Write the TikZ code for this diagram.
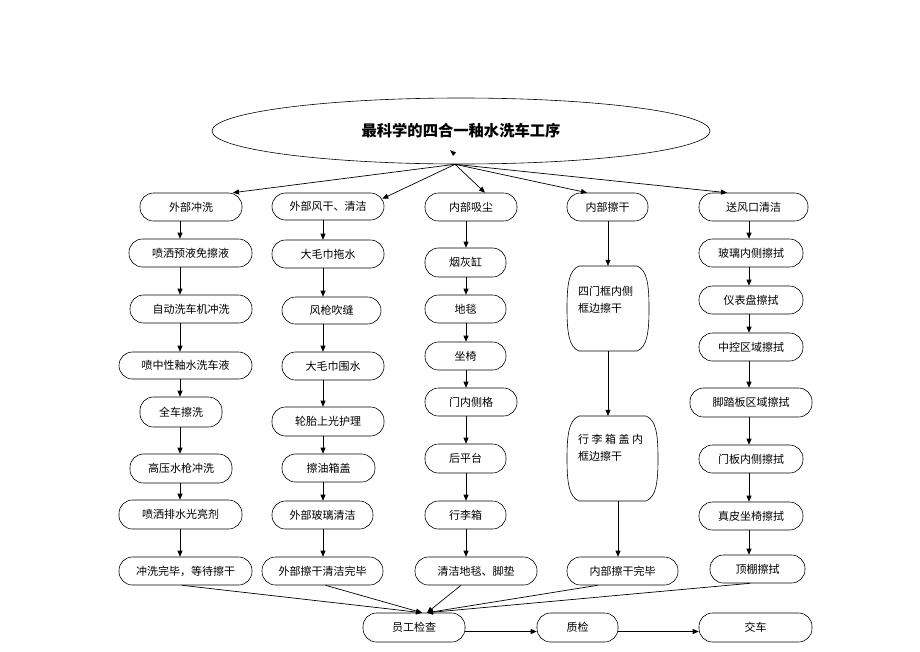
\documentclass[tikz,border=0pt]{standalone}
\usepackage{fontspec}
\newfontfamily\cjk{Noto Sans CJK SC}
\usetikzlibrary{arrows.meta,shapes.geometric}
\tikzset{
  box/.style={draw, line width=0.6pt, rounded corners=13.5pt, inner sep=0pt,
    font=\cjk\fontsize{11}{13}\selectfont},
  arr/.style={-{Triangle[length=6pt,width=5pt]}, line width=0.7pt},
  barreltext/.style={anchor=north west, align=left, inner sep=0pt,
    font=\cjk\fontsize{11}{17}\selectfont},
}
\newcommand{\mybox}[6]{%
  \node[box, minimum width={(#3-#2)*1pt}, minimum height={(#5-#4)*1pt}]
    (#1) at ({(#2+#3)/2},{(#4+#5)/2}) {#6};}
\newcommand{\mybarrel}[5]{%
  \node[inner sep=0pt, minimum width={(#3-#2)*1pt}, minimum height={(#5-#4)*1pt}]
    (#1) at ({(#2+#3)/2},{(#4+#5)/2}) {};
  \draw[line width=0.6pt] ({#2+12},#4) -- ({#3-12},#4)
    .. controls ({#3-2},{#4+4}) and (#3,{#4+18}) .. (#3,{(#4+#5)/2})
    .. controls (#3,{#5-18}) and ({#3-2},{#5-4}) .. ({#3-12},#5)
    -- ({#2+12},#5)
    .. controls ({#2+2},{#5-4}) and (#2,{#5-18}) .. (#2,{(#4+#5)/2})
    .. controls (#2,{#4+18}) and ({#2+2},{#4+4}) .. cycle;}
\begin{document}
\begin{tikzpicture}[x=1pt,y=-1pt]
\useasboundingbox[fill=white] (0,0) rectangle (920,651);

% title
\node[draw, ellipse, line width=0.6pt, minimum width=498pt, minimum height=66pt,
  inner sep=0pt, font=\cjk\bfseries\fontsize{15.3}{17}\selectfont]
  (title) at (461,131) {最科学的四合一釉水洗车工序};
\fill (450,150) -- (456,152.5) -- (453,156) -- cycle;

% column 1
\mybox{a1}{140}{242}{193}{221}{外部冲洗}
\mybox{a2}{129}{252}{239}{267}{喷洒预液免擦液}
\mybox{a3}{130}{252}{295}{323}{自动洗车机冲洗}
\mybox{a4}{119}{252}{352}{379}{喷中性釉水洗车液}
\mybox{a5}{140}{222}{397}{427}{全车擦洗}
\mybox{a6}{130}{232}{454}{483}{高压水枪冲洗}
\mybox{a7}{119}{242}{500}{529}{喷洒排水光亮剂}
\mybox{a8}{119}{252}{557}{585}{冲洗完毕，等待擦干}

% column 2
\mybox{b1}{272}{384}{193}{220}{外部风干、清洁}
\mybox{b2}{272}{384}{240}{268}{大毛巾拖水}
\mybox{b3}{282}{381}{297}{324}{风枪吹缝}
\mybox{b4}{282}{384}{352}{380}{大毛巾围水}
\mybox{b5}{272}{384}{407}{436}{轮胎上光护理}
\mybox{b6}{282}{375}{454}{482}{擦油箱盖}
\mybox{b7}{272}{373}{501}{529}{外部玻璃清洁}
\mybox{b8}{262}{383}{557}{585}{外部擦干清洁完毕}

% column 3
\mybox{c1}{425}{517}{193}{221}{内部吸尘}
\mybox{c2}{425}{506}{248}{277}{烟灰缸}
\mybox{c3}{425}{506}{295}{323}{地毯}
\mybox{c4}{425}{506}{342}{370}{坐椅}
\mybox{c5}{425}{517}{388}{416}{门内侧格}
\mybox{c6}{425}{506}{444}{473}{后平台}
\mybox{c7}{425}{506}{501}{529}{行李箱}
\mybox{c8}{415}{537}{557}{585}{清洁地毯、脚垫}

% column 4
\mybox{d1}{567}{648}{193}{221}{内部擦干}
\mybarrel{d2}{567}{649}{266}{351}
\node[barreltext] at (578,286) {四门框内侧\\框边擦干};
\mybarrel{d3}{567}{658}{416}{501}
\node[barreltext] at (578,434) {行 李 箱 盖 内\\框边擦干};
\mybox{d4}{567}{678}{557}{585}{内部擦干完毕}

% column 5
\mybox{e1}{699}{808}{193}{221}{送风口清洁}
\mybox{e2}{699}{803}{239}{267}{玻璃内侧擦拭}
\mybox{e3}{699}{803}{286}{314}{仪表盘擦拭}
\mybox{e4}{699}{803}{333}{361}{中控区域擦拭}
\mybox{e5}{690}{812}{388}{417}{脚踏板区域擦拭}
\mybox{e6}{699}{803}{445}{473}{门板内侧擦拭}
\mybox{e7}{699}{803}{502}{530}{真皮坐椅擦拭}
\mybox{e8}{710}{805}{555}{583}{顶棚擦拭}

% bottom row
\mybox{f1}{363}{465}{613}{642}{员工检查}
\mybox{f2}{537}{618}{613}{642}{质检}
\mybox{f3}{699}{812}{613}{642}{交车}

% column x positions
\coordinate (x1) at (180,0);
\coordinate (x2) at (323,0);
\coordinate (x3) at (466,0);
\coordinate (x4) at (608,0);
\coordinate (x4b) at (618,0);
\coordinate (x5) at (749,0);

% top fan-out
\coordinate (src) at ([xshift=-6pt]title.south);
\draw[arr] (src) -- ([xshift=42pt]a1.north);
\draw[arr] (src) -- ([xshift=-2pt,yshift=-6pt]b1.north east);
\draw[arr] (src) -- ([xshift=14pt]c1.north);
\draw[arr] (src) -- ([xshift=-20.5pt]d1.north);
\draw[arr] (src) -- ([xshift=-26.5pt]e1.north);

% vertical chains
\foreach \p/\q in {a1/a2,a2/a3,a3/a4,a4/a5,a5/a6,a6/a7,a7/a8}
  \draw[arr] (\p.south -| x1) -- (\q.north -| x1);
\foreach \p/\q in {b1/b2,b2/b3,b3/b4,b4/b5,b5/b6,b6/b7,b7/b8}
  \draw[arr] (\p.south -| x2) -- (\q.north -| x2);
\foreach \p/\q in {c1/c2,c2/c3,c3/c4,c4/c5,c5/c6,c6/c7,c7/c8}
  \draw[arr] (\p.south -| x3) -- (\q.north -| x3);
\draw[arr] (d1.south -| x4) -- (d2.north -| x4);
\draw[arr] (d2.south -| x4) -- (d3.north -| x4);
\draw[arr] (d3.south -| x4b) -- (d4.north -| x4b);
\foreach \p/\q in {e1/e2,e2/e3,e3/e4,e4/e5,e5/e6,e6/e7,e7/e8}
  \draw[arr] (\p.south -| x5) -- (\q.north -| x5);

% convergence
\draw[arr] ([xshift=-3.5pt]a8.south) -- ([xshift=8pt]f1.north);
\draw[arr] ([xshift=3pt]b8.south) -- ([xshift=8pt]f1.north);
\draw[arr] ([xshift=-15pt]c8.south) -- ([xshift=13pt]f1.north);
\draw[arr] ([xshift=-25pt]d4.south) -- ([xshift=13pt]f1.north);
\draw[arr] ([xshift=-7.5pt]e8.south) -- ([xshift=13pt]f1.north);

% bottom chain
\draw[arr] ([yshift=-4pt]f1.east) -- ([yshift=-4pt]f2.west);
\draw[arr] ([yshift=-4pt]f2.east) -- ([yshift=-4pt]f3.west);
\end{tikzpicture}
\end{document}
